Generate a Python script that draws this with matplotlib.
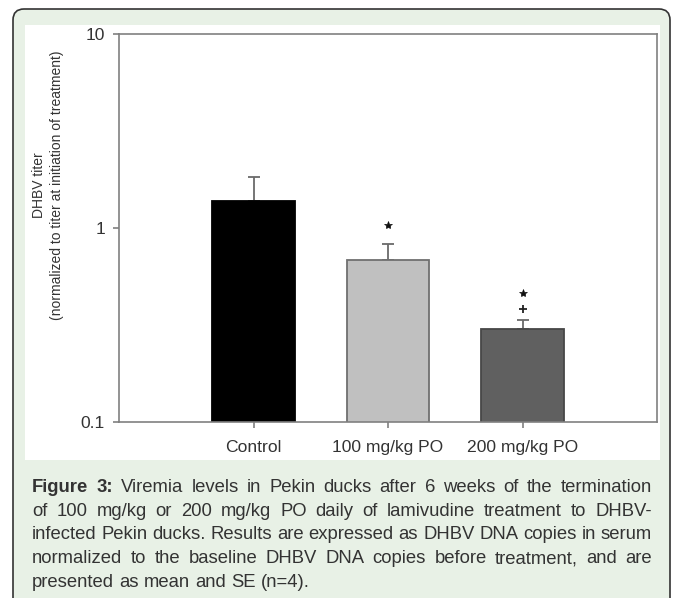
import matplotlib
matplotlib.use("Agg")
import matplotlib.pyplot as plt
import numpy as np
from matplotlib.patches import FancyBboxPatch, Rectangle
from matplotlib.transforms import IdentityTransform

plt.rcParams["font.family"] = ["Liberation Sans", "DejaVu Sans"]

# data
groups = ["Control", "100 mg/kg PO", "200 mg/kg PO"]
titer_mean = [1.38, 0.68, 0.30]
titer_se = [0.45, 0.15, 0.036]
sig_marks = [[], ["*"], ["+", "*"]]

caption_lines = [
    "Figure 3: Viremia levels in Pekin ducks after 6 weeks of the termination",
    "of 100 mg/kg or 200 mg/kg PO daily of lamivudine treatment to DHBV-",
    "infected Pekin ducks. Results are expressed as DHBV DNA copies in serum",
    "normalized to the baseline DHBV DNA copies before treatment, and are",
    "presented as mean and SE (n=4).",
]

W, H = 677, 598
bar_colors = ["#000000", "#c0c0c0", "#606060"]
edge_colors = ["#000000", "#707070", "#474747"]
text_col = "#333333"
axis_col = "#808080"

fig = plt.figure(figsize=(W / 100, H / 100), dpi=100)
fig.patch.set_facecolor("white")

# page frame: rounded green box with white panel for the chart
frame = FancyBboxPatch((13, -30), 657, 598 - 9 + 30,
                       boxstyle="round,pad=0,rounding_size=11",
                       transform=IdentityTransform(),
                       facecolor="#e8f1e6", edgecolor="#333333", lw=1.2, zorder=-3)
fig.add_artist(frame)
panel = Rectangle((25, H - 460), 635, 435, transform=IdentityTransform(),
                  facecolor="white", edgecolor="none", zorder=-2)
fig.add_artist(panel)

ax = fig.add_axes([119 / W, 1 - 422 / H, (657 - 119) / W, (422 - 34) / H])
x = np.arange(len(groups))
ax.bar(x, titer_mean, width=0.61, color=bar_colors, edgecolor=edge_colors,
       linewidth=1.3, zorder=2)
ax.errorbar(x, titer_mean, yerr=[np.zeros(len(x)), titer_se], fmt="none",
            ecolor="#6a6a6a", elinewidth=1.3, capsize=4, capthick=1.3, zorder=1)

# significance marks stacked above error bars
for xi, m, s, marks in zip(x, titer_mean, titer_se, sig_marks):
    top = m + s
    for k, sym in enumerate(marks):
        yy = top * (1.14 if sym == "+" else 1.25) * (1.1 if k > 0 else 1.0)
        if sym == "*":
            ax.plot(xi, yy, marker="*", ms=6, color="#111111", mew=0.5, zorder=3)
        else:
            ax.plot(xi, yy, marker="+", ms=6, color="#222222", mew=1.3, zorder=3)

ax.set_yscale("log")
ax.set_ylim(0.1, 10)
ax.set_xlim(-1, 3)
ax.set_yticks([0.1, 1, 10])
ax.set_yticklabels(["0.1", "1", "10"])
ax.yaxis.set_minor_locator(matplotlib.ticker.NullLocator())
ax.set_xticks(x)
ax.set_xticklabels(groups)
for sp in ax.spines.values():
    sp.set_color(axis_col)
    sp.set_linewidth(1.2)
ax.tick_params(axis="both", colors=axis_col, labelcolor=text_col, labelsize=12.6,
               length=4, width=1.2, direction="out")
ax.tick_params(axis="y", pad=6)
ax.tick_params(axis="x", pad=9)

fig.text(48 / W, 1 - 185 / H,
         "DHBV titer\n(normalized to titer at initiation of treatment)",
         rotation=90, ha="center", va="center", multialignment="center",
         fontsize=10, color=text_col, linespacing=1.45)

# justified caption
renderer = fig.canvas.get_renderer()
left_px, right_px = 32, 652
baselines = [492, 515.7, 539.4, 563.1, 586.8]
cap_size = 13.35


def word_width(txt, weight):
    t = fig.text(0, 0, txt, fontsize=cap_size, fontweight=weight)
    w = t.get_window_extent(renderer).width
    t.remove()
    return w


space_w = word_width("x x", "normal") - word_width("xx", "normal")

for i, line in enumerate(caption_lines):
    words = line.split(" ")
    weights = ["bold" if (i == 0 and j < 2) else "normal" for j in range(len(words))]
    widths = [word_width(w_, wt) for w_, wt in zip(words, weights)]
    if i < len(caption_lines) - 1:
        gap = (right_px - left_px - sum(widths)) / (len(words) - 1)
    else:
        gap = space_w
    xpos = left_px
    for w_, wt, ww in zip(words, weights, widths):
        fig.text(xpos / W, 1 - baselines[i] / H, w_, fontsize=cap_size,
                 fontweight=wt, color=text_col, ha="left", va="baseline")
        xpos += ww + gap

fig.savefig("out.png", dpi=100)
